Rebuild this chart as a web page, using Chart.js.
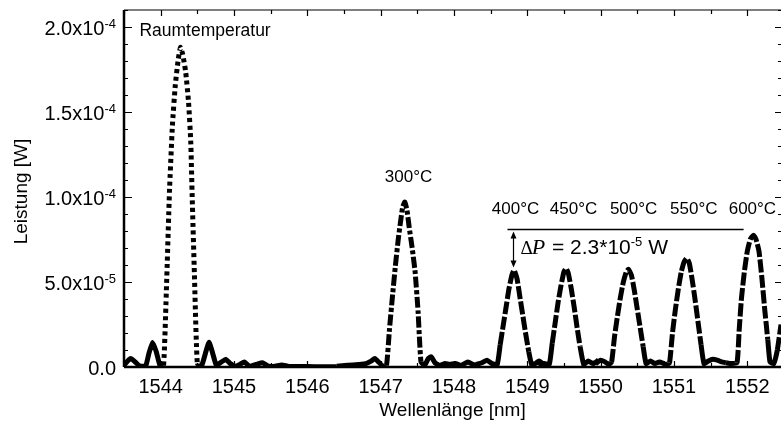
<!DOCTYPE html>
<html>
<head>
<meta charset="utf-8">
<script src="https://cdn.jsdelivr.net/npm/chart.js@4.4.1/dist/chart.umd.min.js"></script>
<style>
  html, body { margin: 0; padding: 0; background: #fff; }
  #wrap { position: relative; width: 781px; height: 426px; }
</style>
</head>
<body>
<div id="wrap"><canvas id="spectrumChart"></canvas></div>
<script>
// wavelength in nm, power in 1e-5 W
const rtWl = [1543.50, 1543.55, 1543.59, 1543.64, 1543.70, 1543.76, 1543.80, 1543.84, 1543.89, 1543.94,
  1543.99, 1544.04, 1544.08, 1544.12, 1544.16, 1544.20, 1544.24, 1544.27, 1544.30, 1544.34,
  1544.38, 1544.41, 1544.43, 1544.46, 1544.50, 1544.56, 1544.61, 1544.66, 1544.71, 1544.76,
  1544.83, 1544.89, 1544.95, 1545.02, 1545.08, 1545.14, 1545.21, 1545.30, 1545.39, 1545.47,
  1545.56, 1545.65, 1545.75, 1545.90, 1546.10, 1546.40];
const rtP = [0.1, 0.35, 0.5, 0.35, 0.1, 0.05, 0.1, 0.8, 1.45, 0.9,
  0.1, 0.1, 4.8, 10.3, 14.2, 16.6, 18.1, 18.8, 18.4, 17.4,
  15.6, 13.3, 10.0, 5.5, 0.2, 0.1, 0.8, 1.45, 0.8, 0.1,
  0.3, 0.45, 0.2, 0.05, 0.15, 0.3, 0.05, 0.15, 0.25, 0.05,
  0.05, 0.12, 0.03, 0.03, 0.02, 0.02];

const t300Wl = [1546.40, 1546.55, 1546.70, 1546.80, 1546.87, 1546.92, 1546.97, 1547.03, 1547.08, 1547.12,
  1547.16, 1547.20, 1547.24, 1547.27, 1547.30, 1547.33, 1547.36, 1547.39, 1547.43, 1547.47,
  1547.51, 1547.55, 1547.60, 1547.65, 1547.69, 1547.74, 1547.80, 1547.88, 1547.94, 1548.02,
  1548.10, 1548.19, 1548.26, 1548.34];
const t300P = [0.05, 0.1, 0.15, 0.2, 0.35, 0.5, 0.3, 0.05, 0.1, 2.2,
  4.1, 5.9, 7.5, 8.5, 9.4, 9.7, 9.2, 8.2, 7.0, 5.6,
  3.3, 0.3, 0.1, 0.5, 0.6, 0.25, 0.1, 0.2, 0.15, 0.2,
  0.1, 0.3, 0.15, 0.05];

const t400Wl = [1548.30, 1548.38, 1548.45, 1548.52, 1548.59, 1548.63, 1548.67, 1548.71, 1548.75, 1548.79,
  1548.82, 1548.86, 1548.90, 1548.94, 1548.98, 1549.02, 1549.06, 1549.11, 1549.16, 1549.21, 1549.26];
const t400P = [0.15, 0.25, 0.4, 0.2, 0.15, 1.3, 2.4, 3.5, 4.6, 5.4,
  5.7, 5.2, 4.1, 3.0, 1.9, 0.9, 0.15, 0.2, 0.35, 0.2, 0.1];

const t450Wl = [1549.15, 1549.23, 1549.30, 1549.34, 1549.38, 1549.42, 1549.46, 1549.50, 1549.53, 1549.56,
  1549.60, 1549.64, 1549.68, 1549.72, 1549.77, 1549.83, 1549.90, 1549.97];
const t450P = [0.1, 0.2, 0.15, 1.4, 2.6, 3.8, 4.8, 5.6, 5.8, 5.5,
  4.6, 3.5, 2.3, 1.2, 0.15, 0.35, 0.2, 0.4];

const t500Wl = [1549.93, 1550.00, 1550.06, 1550.11, 1550.15, 1550.19, 1550.23, 1550.27, 1550.31, 1550.35,
  1550.38, 1550.42, 1550.46, 1550.50, 1550.54, 1550.58, 1550.62, 1550.68, 1550.74, 1550.80, 1550.87];
const t500P = [0.2, 0.4, 0.3, 0.15, 0.3, 1.8, 3.0, 4.1, 5.0, 5.6,
  5.75, 5.4, 4.5, 3.4, 2.3, 1.2, 0.2, 0.35, 0.2, 0.3, 0.2];

const t550Wl = [1550.85, 1550.90, 1550.94, 1550.98, 1551.02, 1551.06, 1551.10, 1551.14, 1551.175, 1551.21,
  1551.25, 1551.29, 1551.33, 1551.37, 1551.41, 1551.47, 1551.53, 1551.59, 1551.65, 1551.71];
const t550P = [0.2, 0.15, 0.25, 2.0, 3.4, 4.6, 5.6, 6.2, 6.4, 6.1,
  5.1, 3.9, 2.6, 1.3, 0.2, 0.35, 0.45, 0.4, 0.3, 0.25];

const t600Wl = [1551.71, 1551.78, 1551.86, 1551.89, 1551.92, 1551.96, 1552.00, 1552.04, 1552.085, 1552.12,
  1552.16, 1552.20, 1552.24, 1552.28, 1552.31, 1552.36, 1552.41, 1552.46];
const t600P = [0.25, 0.2, 0.25, 2.2, 4.0, 5.6, 6.8, 7.5, 7.75, 7.5,
  6.8, 5.2, 3.3, 1.6, 0.3, 0.2, 1.0, 2.5];

const xTicks = [1544, 1545, 1546, 1547, 1548, 1549, 1550, 1551, 1552];
const yTicks = [0, 5, 10, 15, 20];
const yTickMant = ["0.0", "5.0x10", "1.0x10", "1.5x10", "2.0x10"];
const yTickExp = ["", "-5", "-4", "-4", "-4"];
const tempLabels = ["300°C", "400°C", "450°C", "500°C", "550°C", "600°C"];

const SANS = "'Liberation Sans', Arial, sans-serif";
const SERIF = "'Liberation Serif', 'Times New Roman', serif";

function toPoints(wl, p) {
  return wl.map((w, i) => ({ x: w, y: p[i] }));
}

function spectrum(label, wl, p, dash) {
  return {
    label: label,
    data: toPoints(wl, p),
    borderColor: "#000",
    borderWidth: 5,
    borderCapStyle: "butt",
    borderJoinStyle: "round",
    pointRadius: 0,
    tension: 0.15,
    segment: {
      // flat noise floor looks solid, only the peaks show the line style
      borderDash: (c) => (c.p0.parsed.y > 1.6 || c.p1.parsed.y > 1.6) ? dash : []
    }
  };
}

// annotation spots in data units
const tempLabelX = [1547.38, 1548.84, 1549.63, 1550.45, 1551.27, 1552.07];
const tempLabelY = [10.88, 8.98, 8.98, 8.98, 8.98, 8.98];

const decorPlugin = {
  id: "decor",
  afterDatasetsDraw(chart) {
    const { ctx, chartArea: a, scales } = chart;
    const x = scales.x, y = scales.y;
    ctx.save();
    ctx.strokeStyle = "#000";
    ctx.fillStyle = "#000";

    // frame (right edge falls just outside the picture)
    ctx.lineWidth = 1.2;
    ctx.beginPath();
    ctx.moveTo(a.left, a.top); ctx.lineTo(a.right, a.top);
    ctx.stroke();
    ctx.lineWidth = 2.5;
    ctx.beginPath();
    ctx.moveTo(a.left, a.top); ctx.lineTo(a.left, a.bottom);
    ctx.moveTo(a.left, a.bottom); ctx.lineTo(a.right, a.bottom);
    ctx.stroke();

    // inward ticks
    ctx.lineWidth = 1.2;
    ctx.beginPath();
    xTicks.forEach((t) => {
      [t - 0.5, t].forEach((v, k) => {
        if (v < x.min) return;
        const px = Math.round(x.getPixelForValue(v)) + 0.5;
        const len = k === 1 ? 6 : 4;
        ctx.moveTo(px, a.bottom); ctx.lineTo(px, a.bottom - len);
        ctx.moveTo(px, a.top); ctx.lineTo(px, a.top + len);
      });
    });
    for (let v = 0; v <= 21; v++) {
      const py = Math.round(y.getPixelForValue(v)) + 0.5;
      const major = v % 5 === 0;
      ctx.moveTo(a.left, py); ctx.lineTo(a.left + (major ? 8 : 4), py);
      ctx.moveTo(a.right, py); ctx.lineTo(a.right - (major ? 6 : 3), py);
    }
    ctx.stroke();

    // x tick labels
    ctx.font = "20px " + SANS;
    ctx.textAlign = "center";
    ctx.textBaseline = "alphabetic";
    xTicks.forEach((t) => {
      ctx.fillText(String(t), x.getPixelForValue(t), a.bottom + 25.5);
    });

    // y tick labels with exponent
    yTicks.forEach((t, i) => {
      const py = y.getPixelForValue(t);
      const right = a.left - 8;
      ctx.font = "13px " + SANS;
      const ew = yTickExp[i] ? ctx.measureText(yTickExp[i]).width : 0;
      ctx.textAlign = "right";
      ctx.fillText(yTickExp[i], right, py + 0.5);
      ctx.font = "20px " + SANS;
      ctx.fillText(yTickMant[i], right - ew, py + 8);
    });

    // axis titles
    ctx.font = "19px " + SANS;
    ctx.textAlign = "center";
    ctx.textBaseline = "middle";
    ctx.fillText("Wellenlänge [nm]", (a.left + a.right) / 2, 411);
    ctx.save();
    ctx.translate(22, (a.top + a.bottom) / 2 + 3);
    ctx.rotate(-Math.PI / 2);
    ctx.fillText("Leistung [W]", 0, 0);
    ctx.restore();

    // peak labels
    ctx.font = "17.5px " + SANS;
    ctx.textBaseline = "alphabetic";
    ctx.textAlign = "left";
    ctx.fillText("Raumtemperatur", x.getPixelForValue(1543.71), y.getPixelForValue(19.5));
    ctx.font = "17px " + SANS;
    ctx.textAlign = "center";
    tempLabels.forEach((s, i) => {
      ctx.fillText(s, x.getPixelForValue(tempLabelX[i]), y.getPixelForValue(tempLabelY[i]));
    });

    // delta P marker
    const lineY = Math.round(y.getPixelForValue(8.1)) + 0.5;
    ctx.lineWidth = 1.3;
    ctx.beginPath();
    ctx.moveTo(x.getPixelForValue(1548.73), lineY);
    ctx.lineTo(x.getPixelForValue(1551.95), lineY);
    ctx.stroke();
    const ax = Math.round(x.getPixelForValue(1548.806)) + 0.5;
    const ay1 = lineY + 2, ay2 = y.getPixelForValue(5.85);
    ctx.lineWidth = 1.2;
    ctx.beginPath();
    ctx.moveTo(ax, ay1 + 4); ctx.lineTo(ax, ay2 - 4);
    ctx.stroke();
    ctx.beginPath();
    ctx.moveTo(ax, ay1); ctx.lineTo(ax - 3, ay1 + 7); ctx.lineTo(ax + 3, ay1 + 7); ctx.closePath();
    ctx.moveTo(ax, ay2); ctx.lineTo(ax - 3, ay2 - 7); ctx.lineTo(ax + 3, ay2 - 7); ctx.closePath();
    ctx.fill();

    let tx = x.getPixelForValue(1548.907);
    const ty = y.getPixelForValue(6.63);
    ctx.textAlign = "left";
    ctx.font = "19px " + SERIF;
    ctx.fillText("\u0394", tx, ty);
    tx += ctx.measureText("\u0394").width - 1;
    ctx.font = "italic 22px " + SERIF;
    ctx.fillText("P", tx, ty);
    tx += ctx.measureText("P").width + 1;
    ctx.font = "21px " + SANS;
    ctx.fillText(" = 2.3*10", tx, ty);
    tx += ctx.measureText(" = 2.3*10").width;
    ctx.font = "13px " + SANS;
    ctx.fillText("-5", tx, ty - 8);
    tx += ctx.measureText("-5").width;
    ctx.font = "21px " + SANS;
    ctx.fillText(" W", tx, ty);

    ctx.restore();
  }
};

const chartCanvas = document.getElementById("spectrumChart");

new Chart(chartCanvas, {
  type: "line",
  data: {
    datasets: [
      spectrum("Raumtemperatur", rtWl, rtP, [4, 3.5]),
      spectrum("300°C", t300Wl, t300P, [11, 2.5, 4, 2.5]),
      spectrum("400°C", t400Wl, t400P, [13, 2.5]),
      spectrum("450°C", t450Wl, t450P, [13, 2.5]),
      spectrum("500°C", t500Wl, t500P, [13, 2.5]),
      spectrum("550°C", t550Wl, t550P, [13, 2.5]),
      spectrum("600°C", t600Wl, t600P, [13, 2.5])
    ]
  },
  options: {
    responsive: true,
    maintainAspectRatio: false,
    animation: false,
    layout: { padding: { left: 124, top: 10, right: 0, bottom: 59 } },
    plugins: {
      legend: { display: false },
      tooltip: { enabled: false }
    },
    scales: {
      x: { type: "linear", min: 1543.5, max: 1552.46, display: false },
      y: { type: "linear", min: 0, max: 21, display: false }
    }
  },
  plugins: [decorPlugin]
});
</script>
</body>
</html>
